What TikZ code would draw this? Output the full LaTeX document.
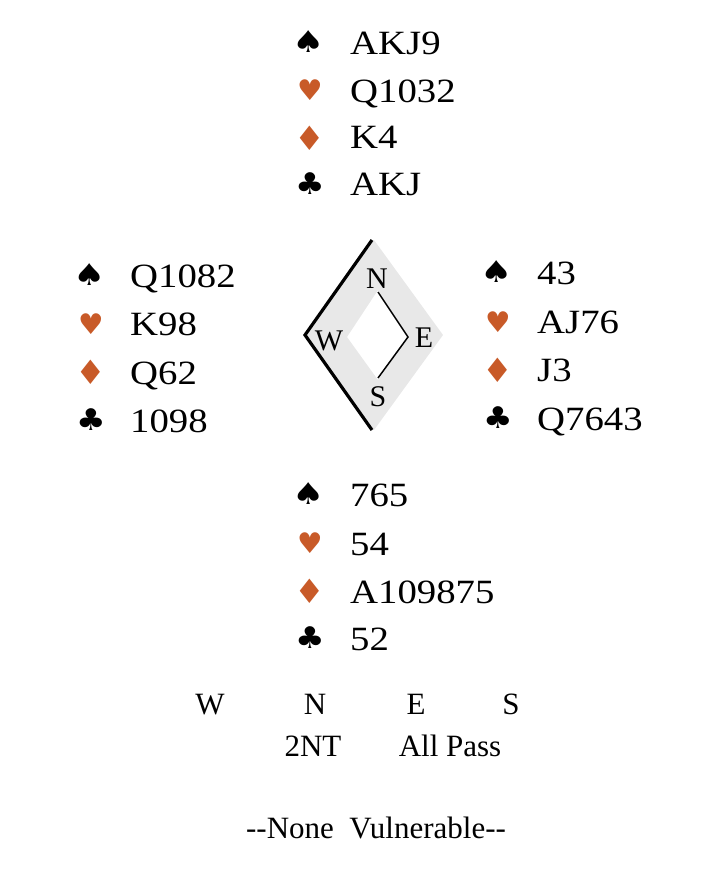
\documentclass[tikz,border=0pt]{standalone}
\usepackage{fontspec}
\setmainfont{Liberation Serif}
\newfontfamily\cardfont[FakeStretch=1.14]{Liberation Serif}
\newfontfamily\suitfont{DejaVu Sans}
\definecolor{suitred}{RGB}{200,90,40}
\definecolor{compassgrey}{RGB}{232,232,232}
\tikzset{
  cards/.style={anchor=base west, inner sep=0pt, font=\cardfont\fontsize{34}{36}\selectfont},
  suitsym/.style={anchor=center, inner sep=0pt, font=\suitfont\fontsize{30}{32}\selectfont},
  spd/.style={suitsym, text=black, xscale=1.2},
  hrt/.style={suitsym, text=suitred, scale=0.95},
  dia/.style={suitsym, text=suitred, xscale=1.14, yscale=1.12},
  clb/.style={suitsym, text=black, xscale=1.1},
  bid/.style={anchor=base, inner sep=0pt, font=\fontsize{31}{33}\selectfont},
  dirl/.style={anchor=base, inner sep=0pt, font=\fontsize{30}{32}\selectfont},
}
\begin{document}
\begin{tikzpicture}[x=1pt,y=-1pt]
\useasboundingbox (0,0) rectangle (725,873);
% compass
\fill[compassgrey,even odd rule] (374,240) -- (443,335) -- (374,430) -- (305,335) -- cycle
  (378,290) -- (408,337) -- (378,380) -- (347,337) -- cycle;
\draw[line width=3.2pt] (372,240) -- (305,335) -- (372,430);
\draw[line width=1.5pt] (378,292) -- (408,337) -- (378,378);
\node[dirl] (cN) at (377,288) {N};
\node[dirl] (cW) at (329,350) {W};
\node[dirl] (cE) at (424,347) {E};
\node[dirl] (cS) at (378,406) {S};
% North
\node[spd] (ns) at (309,42) {♠};  \node[cards] (nst) at (350,54) {AKJ9};
\node[hrt] (nh) at (310,90) {♥};  \node[cards] (nht) at (350,102) {Q1032};
\node[dia] (nd) at (310,138) {♦}; \node[cards] (ndt) at (350,148) {K4};
\node[clb] (nc) at (310,184) {♣}; \node[cards] (nct) at (350,195) {AKJ};
% West
\node[spd] (ws) at (90,275) {♠};  \node[cards] (wst) at (130,287) {Q1082};
\node[hrt] (wh) at (91,324) {♥};  \node[cards] (wht) at (130,335) {K98};
\node[dia] (wd) at (91,372) {♦};  \node[cards] (wdt) at (130,384) {Q62};
\node[clb] (wc) at (91,420) {♣};  \node[cards] (wct) at (130,432) {1098};
% East
\node[spd] (es) at (497,272) {♠}; \node[cards] (est) at (537,284) {43};
\node[hrt] (eh) at (498,322) {♥}; \node[cards] (eht) at (537,333) {AJ76};
\node[dia] (ed) at (498,370) {♦}; \node[cards] (edt) at (537,381) {J3};
\node[clb] (ec) at (498,418) {♣}; \node[cards] (ect) at (537,430) {Q7643};
% South
\node[spd] (ss) at (309,494) {♠}; \node[cards] (sst) at (350,506) {765};
\node[hrt] (sh) at (310,543) {♥}; \node[cards] (sht) at (350,555) {54};
\node[dia] (sd) at (310,591) {♦}; \node[cards] (sdt) at (350,603) {A109875};
\node[clb] (sc) at (310,638) {♣}; \node[cards] (sct) at (350,650) {52};
% bidding
\node[bid] (bW) at (210,714) {W};
\node[bid] (bN) at (315,714) {N};
\node[bid] (bE) at (416,714) {E};
\node[bid] (bS) at (511,714) {S};
\node[bid] (b1) at (313,756) {2NT};
\node[bid] (b2) at (450,756) {All Pass};
\node[bid] (vul) at (376,838) {-{}-None\ \ Vulnerable-{}-};
\end{tikzpicture}
\end{document}
